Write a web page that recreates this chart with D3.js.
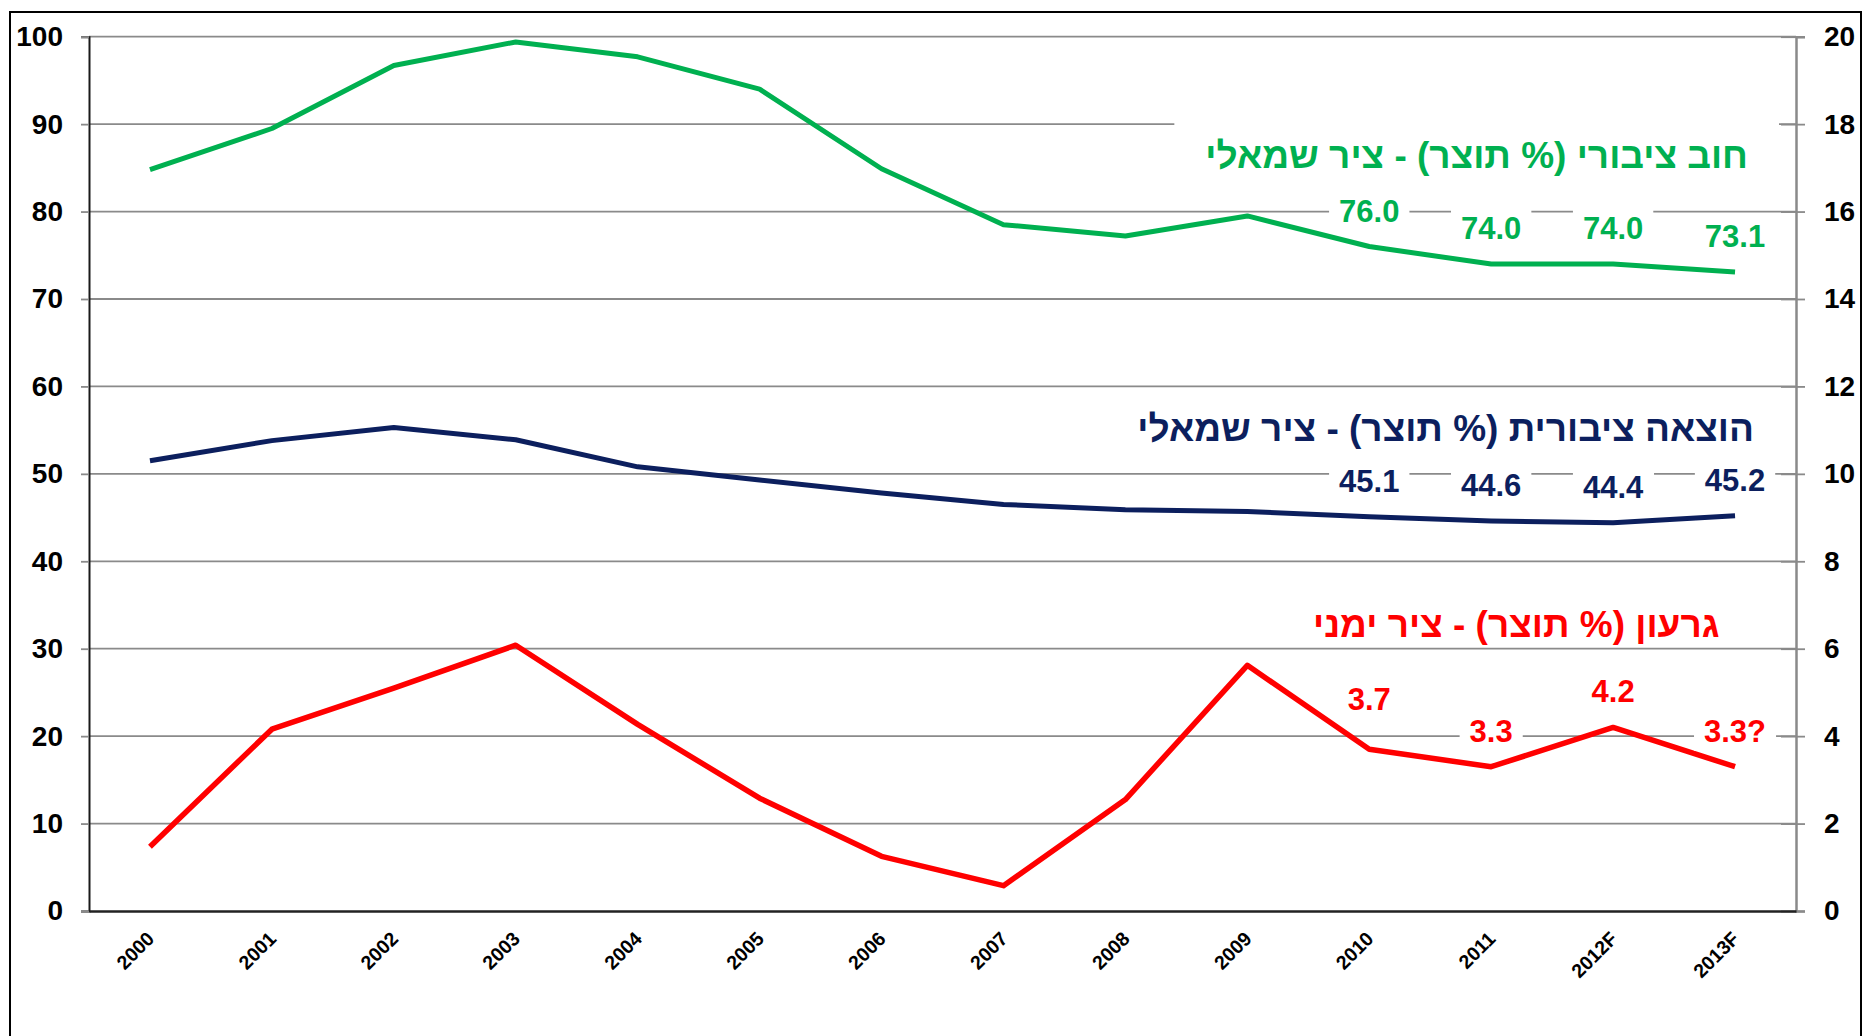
<!DOCTYPE html>
<html>
<head>
<meta charset="utf-8">
<script src="https://cdn.jsdelivr.net/npm/d3@7"></script>
<style>
  body { margin: 0; background: #fff; }
  svg { display: block; }
  text { font-family: 'Liberation Sans', Arial, sans-serif; font-weight: bold; }
</style>
</head>
<body>
<svg id="chart" width="1862" height="1036"></svg>
<script>
const years = ['2000', '2001', '2002', '2003', '2004', '2005', '2006', '2007', '2008', '2009', '2010', '2011', '2012F', '2013F']
// left axis, % of GDP
const debt = [84.8, 89.5, 96.7, 99.4, 97.7, 94.0, 84.9, 78.5, 77.2, 79.5, 76.0, 74.0, 74.0, 73.1]
const spending = [51.5, 53.8, 55.3, 53.9, 50.8, 49.3, 47.8, 46.5, 45.9, 45.7, 45.1, 44.6, 44.4, 45.2]
// right axis, % of GDP
const deficit = [1.47, 4.16, 5.1, 6.08, 4.27, 2.58, 1.25, 0.58, 2.55, 5.62, 3.7, 3.3, 4.2, 3.3]

const labelYears = ['2010', '2011', '2012F', '2013F']
const debtLabels = ['76.0', '74.0', '74.0', '73.1']
const spendingLabels = ['45.1', '44.6', '44.4', '45.2']
const deficitLabels = ['3.7', '3.3', '4.2', '3.3?']

const leftTicks = [0, 10, 20, 30, 40, 50, 60, 70, 80, 90, 100]
const rightTicks = [0, 2, 4, 6, 8, 10, 12, 14, 16, 18, 20]

const debtTitle = 'חוב ציבורי (% תוצר) - ציר שמאלי'
const spendingTitle = 'הוצאה ציבורית (% תוצר) - ציר שמאלי'
const deficitTitle = 'גרעון (% תוצר) - ציר ימני'

const GREEN = '#00b050'
const NAVY = '#0c1f5e'
const RED = '#ff0000'
const GRID = '#8a8a8a'

const svg = d3.select('#chart')
const plotLeft = 89, plotRight = 1796, plotTop = 36.7, plotBottom = 911

const x = d3.scalePoint().domain(years).range([plotLeft, plotRight]).padding(0.5)
const yL = d3.scaleLinear().domain([0, 100]).range([plotBottom, plotTop])
const yR = d3.scaleLinear().domain([0, 20]).range([plotBottom, plotTop])

// outer frame
svg.append('rect')
  .attr('x', 10).attr('y', 12).attr('width', 1851).attr('height', 1100)
  .attr('fill', 'none').attr('stroke', '#000').attr('stroke-width', 2)

// gridlines
svg.append('g')
  .selectAll('line')
  .data(leftTicks.filter(d => d > 0))
  .join('line')
  .attr('x1', plotLeft).attr('x2', plotRight)
  .attr('y1', d => yL(d)).attr('y2', d => yL(d))
  .attr('stroke', GRID).attr('stroke-width', 1.8)

const series = [
  { name: 'debt', values: debt, y: yL, color: GREEN, labels: debtLabels, title: debtTitle, titleX: 1748, titleY: 168 },
  { name: 'spending', values: spending, y: yL, color: NAVY, labels: spendingLabels, title: spendingTitle, titleX: 1754, titleY: 441 },
  { name: 'deficit', values: deficit, y: yR, color: RED, labels: deficitLabels, title: deficitTitle, titleX: 1719.5, titleY: 637 }
]

// series lines
series.forEach(s => {
  const line = d3.line()
    .x((d, i) => x(years[i]))
    .y(d => s.y(d))
  svg.append('path')
    .datum(s.values)
    .attr('d', line)
    .attr('fill', 'none')
    .attr('stroke', s.color)
    .attr('stroke-width', s.name === 'deficit' ? 5.5 : 5)
    .attr('stroke-linejoin', 'round')
})

// titles with white boxes
series.forEach(s => {
  const g = svg.append('g')
  const t = g.append('text')
    .attr('direction', 'rtl')
    .attr('x', s.titleX).attr('y', s.titleY)
    .attr('text-anchor', 'start')
    .attr('font-size', 37)
    .attr('fill', s.color)
    .text(s.title)
  const b = t.node().getBBox()
  g.insert('rect', 'text')
    .attr('x', b.x - 31).attr('y', b.y - 12)
    .attr('width', b.width + 62).attr('height', b.height + 10)
    .attr('fill', '#fff')
})

// data labels with white boxes
series.forEach(s => {
  labelYears.forEach((yr, i) => {
    const v = s.values[years.indexOf(yr)]
    const lift = (s.name === 'deficit' && i === 0) ? 39 : 25
    const g = svg.append('g')
    const t = g.append('text')
      .attr('x', x(yr)).attr('y', s.y(v) - lift)
      .attr('text-anchor', 'middle')
      .attr('font-size', 31)
      .attr('fill', s.color)
      .text(s.labels[i])
    const b = t.node().getBBox()
    g.insert('rect', 'text')
      .attr('x', b.x - 10).attr('y', b.y - 4)
      .attr('width', b.width + 20).attr('height', b.height + 6)
      .attr('fill', '#fff')
  })
})

// left axis
const leftAxis = svg.append('g')
  .attr('transform', `translate(${plotLeft},0)`)
  .call(d3.axisLeft(yL).tickValues(leftTicks).tickSize(8).tickPadding(18))
leftAxis.select('.domain').attr('stroke', '#1a1a1a').attr('stroke-width', 2)
leftAxis.selectAll('.tick line').attr('stroke', GRID).attr('stroke-width', 1.8)
leftAxis.selectAll('.tick text')
  .attr('font-size', 28).attr('fill', '#000')
  .attr('font-family', "'Liberation Sans', Arial, sans-serif")

// right axis, ticks cross the axis line
const rightAxis = svg.append('g')
  .attr('transform', `translate(${plotRight},0)`)
  .call(d3.axisRight(yR).tickValues(rightTicks).tickSize(9).tickPadding(19))
rightAxis.select('.domain').attr('stroke', GRID).attr('stroke-width', 2.5)
rightAxis.selectAll('.tick line').attr('x1', -15).attr('stroke', GRID).attr('stroke-width', 1.8)
rightAxis.selectAll('.tick text')
  .attr('font-size', 28).attr('fill', '#000')
  .attr('font-family', "'Liberation Sans', Arial, sans-serif")

// x axis
const xAxis = svg.append('g')
  .attr('transform', `translate(0,${plotBottom})`)
  .call(d3.axisBottom(x).tickSize(0).tickPadding(0))
xAxis.select('.domain').attr('stroke', '#222').attr('stroke-width', 2.5)
xAxis.selectAll('.tick text')
  .attr('font-size', 19.5).attr('fill', '#000')
  .attr('font-family', "'Liberation Sans', Arial, sans-serif")
  .attr('text-anchor', 'end')
  .attr('dy', 0)
  .attr('y', 0)
  .attr('transform', 'translate(5,29) rotate(-45)')
</script>
</body>
</html>
